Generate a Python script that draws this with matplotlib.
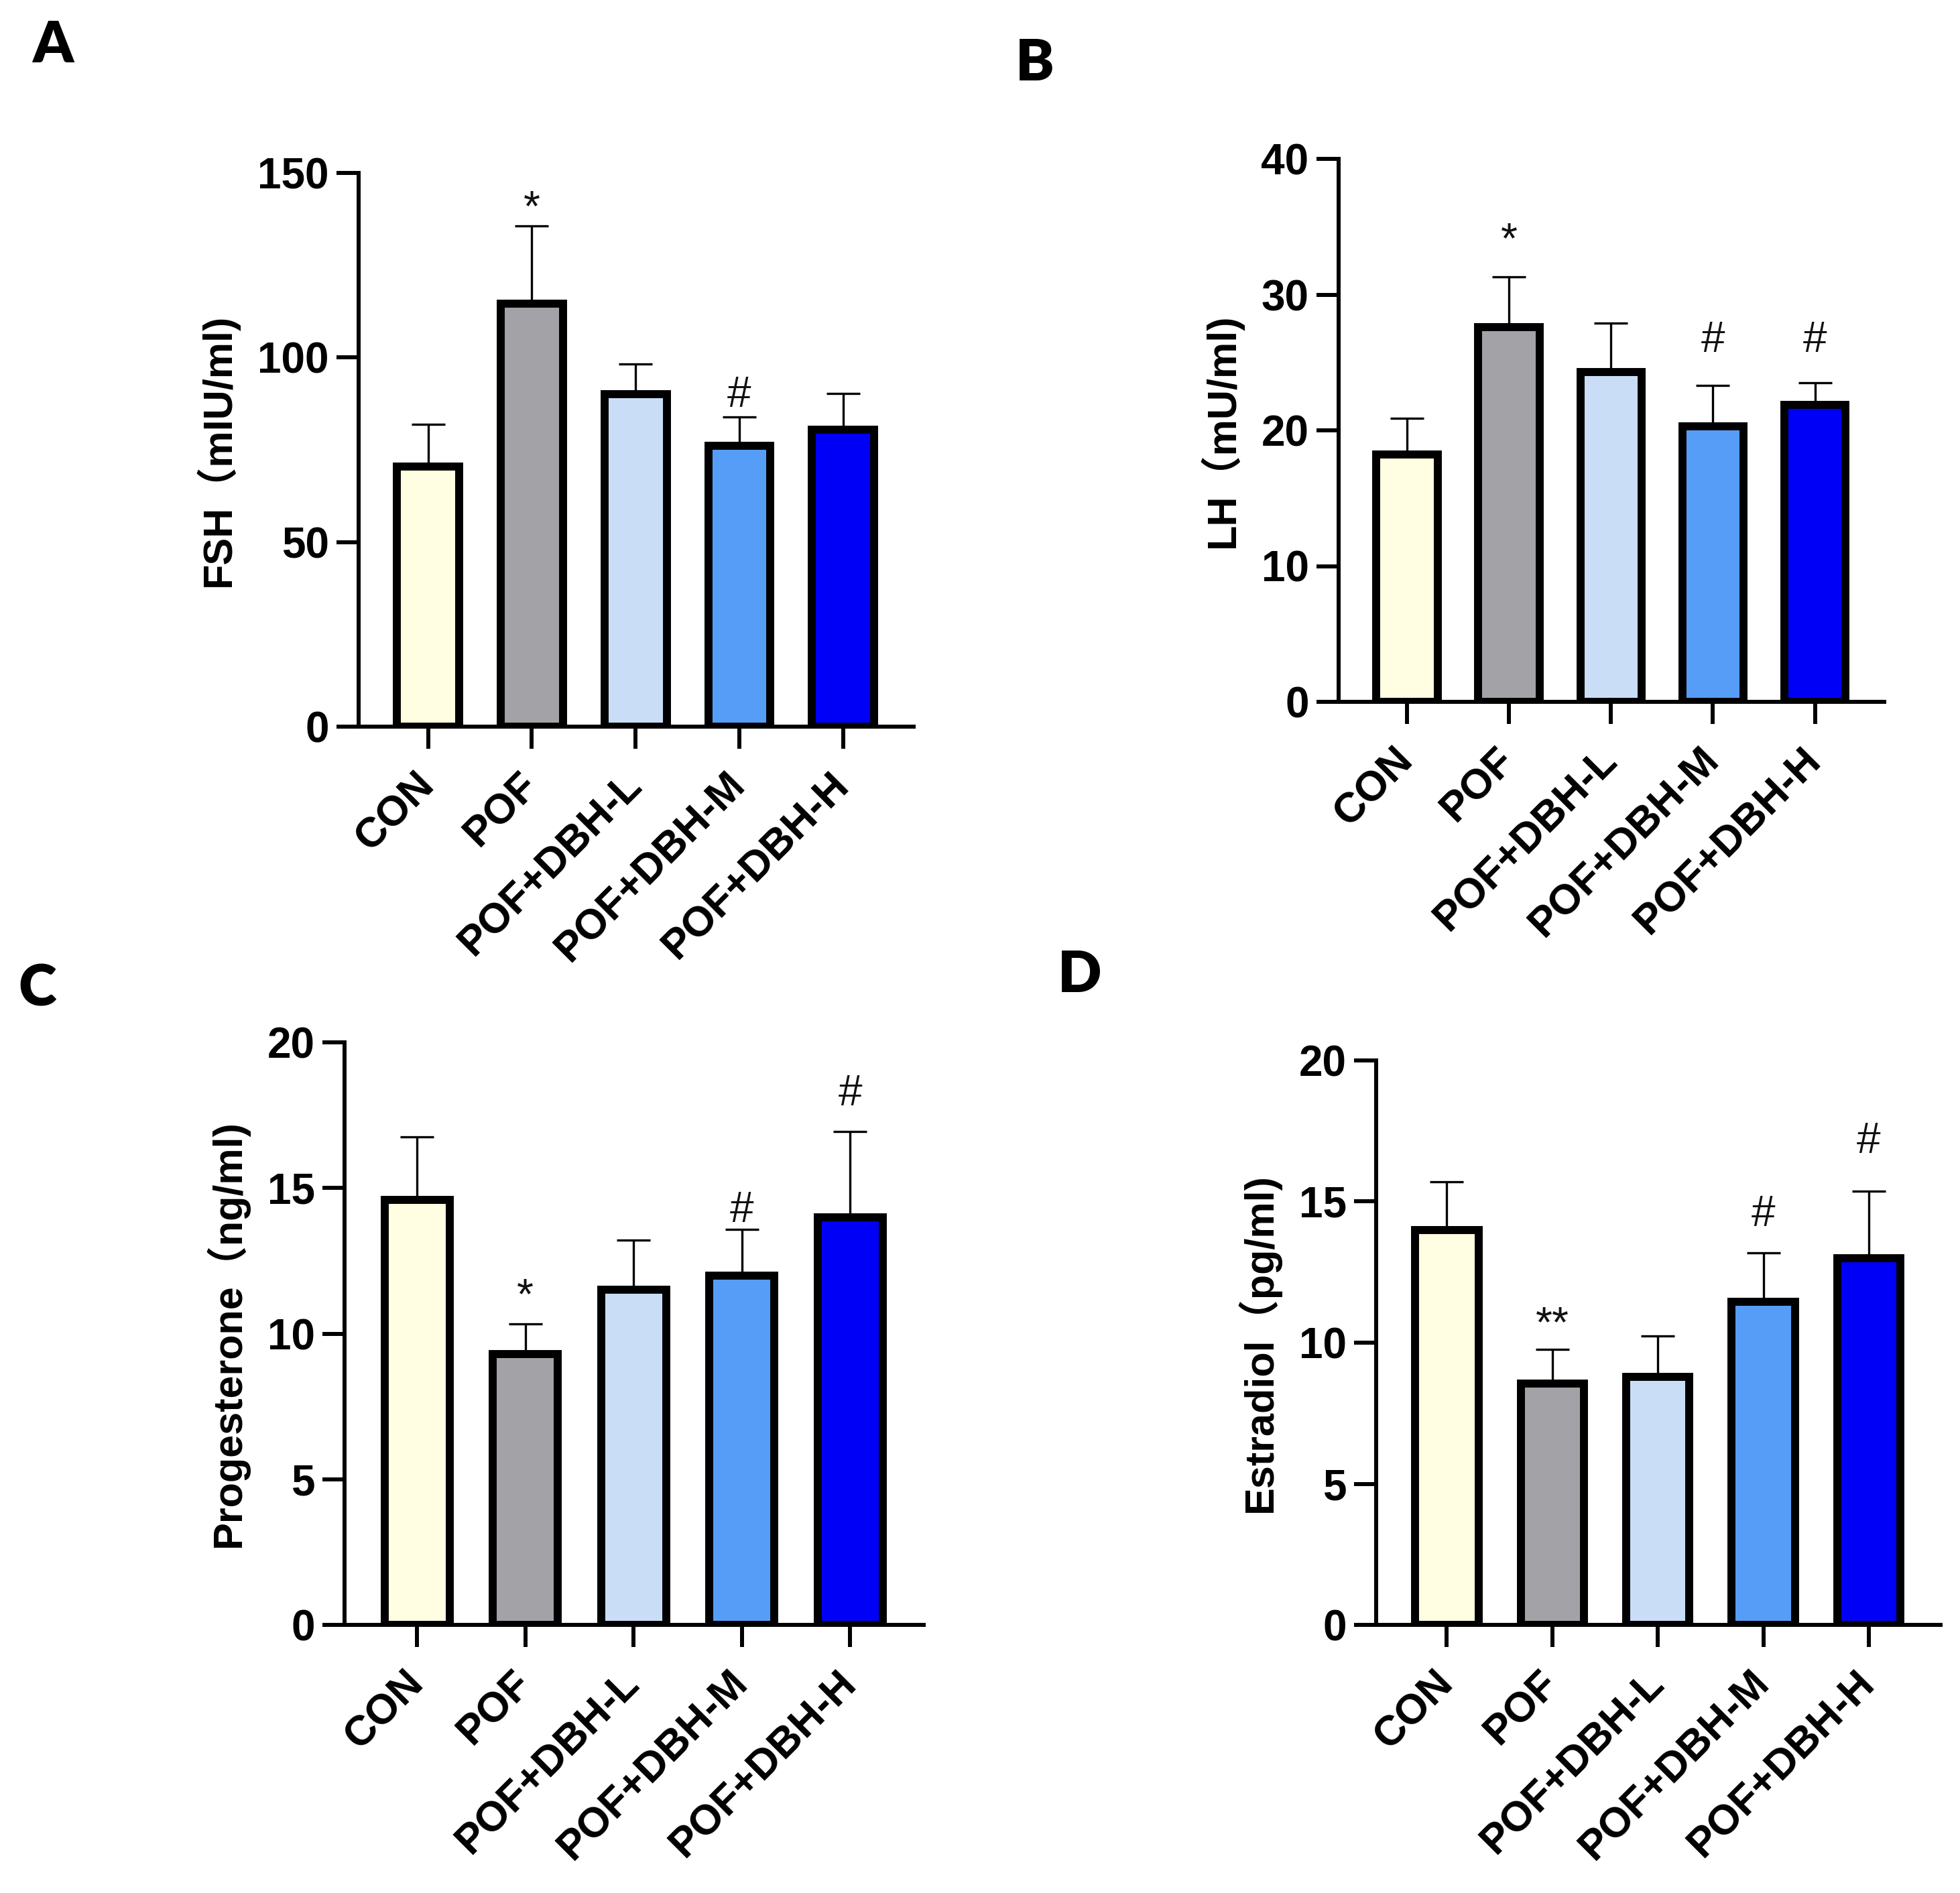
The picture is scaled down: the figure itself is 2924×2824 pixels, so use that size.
import matplotlib
matplotlib.use('Agg')
import matplotlib.pyplot as plt
import numpy as np

# fonts: Arial-like for the axes, CJK fallback for the full-width bracket
plt.rcParams['font.family'] = ['Liberation Sans', 'Noto Sans CJK SC']

# ---- data ----
groups = ['CON', 'POF', 'POF+DBH-L', 'POF+DBH-M', 'POF+DBH-H']
bar_colors = ['#FFFDE2', '#A3A2A7', '#C9DDF6', '#569DF7', '#0000F7']

fsh_mean = [70.5, 114.6, 90.1, 76.0, 80.5]
fsh_err = [11.4, 21.0, 8.1, 7.9, 9.7]
fsh_marks = ['', '*', '', '#', '']

lh_mean = [18.2, 27.6, 24.3, 20.3, 21.9]
lh_err = [2.7, 3.7, 3.6, 3.0, 1.6]
lh_marks = ['', '*', '', '#', '#']

prog_mean = [14.6, 9.3, 11.5, 12.0, 14.0]
prog_err = [2.15, 1.04, 1.7, 1.57, 2.95]
prog_marks = ['', '*', '', '#', '#']

e2_mean = [14.0, 8.55, 8.8, 11.45, 13.0]
e2_err = [1.7, 1.22, 1.43, 1.73, 2.38]
e2_marks = ['', '**', '', '#', '#']

# ---- figure ----
W, H = 2924, 2824
fig = plt.figure(figsize=(W / 100, H / 100), dpi=100)


def px_axes(left, top, right, bottom):
    # axes box from pixel coordinates of the spines
    return fig.add_axes([left / W, 1 - bottom / H, (right - left) / W, (bottom - top) / H])


panels = [
    # letter, letter pos, axes px box, mean, err, marks, mark offsets (pt), ylabel, ymax, step
    ('A', (79, 68), (535, 258, 1363, 1084), fsh_mean, fsh_err, fsh_marks,
     [0, 6, 0, 11, 0], 'FSH（mIU/ml)', 150, 50),
    ('B', (1544, 95), (1997, 237, 2811, 1047), lh_mean, lh_err, lh_marks,
     [0, 26, 0, 36, 33], 'LH（mU/ml)', 40, 10),
    ('C', (56, 1475), (514, 1555, 1378, 2424), prog_mean, prog_err, prog_marks,
     [0, 16, 0, 8, 28], 'Progesterone（ng/ml)', 20, 5),
    ('D', (1611, 1455), (2053, 1582, 2895, 2424), e2_mean, e2_err, e2_marks,
     [0, 13, 0, 29, 41], 'Estradiol（pg/ml)', 20, 5),
]

x = np.arange(len(groups))

for letter, lpos, box, mean, err, marks, offs, ylabel, ymax, step in panels:
    ax = px_axes(*box)

    # error bars (upper only) behind the bars
    ax.errorbar(x, mean, yerr=[np.zeros(len(err)), err], fmt='none',
                ecolor='black', elinewidth=2.4, capsize=18, capthick=2.4, zorder=2)
    ax.bar(x, mean, width=0.6, color=bar_colors, edgecolor='black',
           linewidth=8.6, zorder=3)

    for i, (m, e, s) in enumerate(zip(mean, err, marks)):
        if s:
            ax.annotate(s, xy=(i, m + e), xytext=(0, offs[i]), textcoords='offset points',
                        ha='center', va='baseline', fontsize=46, color='#111111')

    ax.set_xlim(-0.67, 4.68)
    ax.set_ylim(0, ymax)
    ax.set_yticks(np.arange(0, ymax + 1, step))
    ax.set_xticks(x)
    ax.set_xticklabels(groups, rotation=45, ha='right', va='center',
                       rotation_mode='anchor', fontsize=45, fontweight='bold')
    for lab in ax.get_yticklabels():
        lab.set_fontsize(46)
        lab.set_fontweight('bold')
    ax.set_ylabel(ylabel, fontsize=44, fontweight='bold', labelpad=20)

    for side in ['top', 'right']:
        ax.spines[side].set_visible(False)
    for side in ['left', 'bottom']:
        ax.spines[side].set_linewidth(4.3)
    ax.tick_params(axis='both', width=4.3, length=24, direction='out')
    ax.tick_params(axis='y', pad=8)
    ax.tick_params(axis='x', pad=32)

    # panel letter
    fig.text(lpos[0] / W, 1 - lpos[1] / H, letter, fontsize=62, fontweight='heavy',
             family=['Lato', 'DejaVu Sans'], ha='center', va='center')

plt.savefig('out.png', dpi=100, facecolor='white')
